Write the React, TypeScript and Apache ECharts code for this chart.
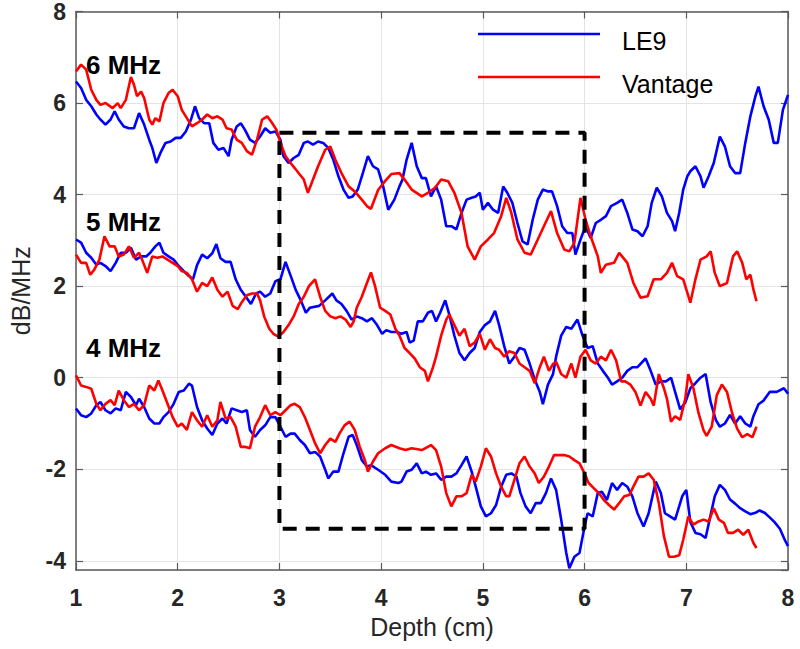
import React, { useEffect, useRef } from 'react';
import * as echarts from 'echarts';

// Depth (cm) / attenuation (dB/MHz) pairs
const le9_6MHz: [number, number][] = [
  [1.00,6.47],[1.05,6.33],[1.10,6.07],[1.15,5.93],[1.20,5.75],[1.24,5.64],[1.29,5.53],[1.34,5.64],[1.38,5.82],[1.42,5.64],
  [1.47,5.49],[1.52,5.45],[1.57,5.45],[1.62,5.78],[1.67,5.53],[1.72,5.20],[1.75,5.02],[1.79,4.69],[1.83,4.91],[1.88,5.13],
  [1.93,5.16],[1.98,5.24],[2.03,5.24],[2.08,5.38],[2.13,5.64],[2.17,5.93],[2.21,5.67],[2.26,5.56],[2.31,5.56],[2.35,5.13],
  [2.40,4.98],[2.45,5.02],[2.50,4.84],[2.53,5.20],[2.58,5.49],[2.62,5.56],[2.66,5.42],[2.71,5.20],[2.76,5.13],[2.81,5.27],
  [2.86,5.45],[2.91,5.35],[2.96,5.38],[3.01,5.20],[3.04,4.84],[3.09,4.69],[3.14,4.80],[3.19,4.87],[3.24,5.13],[3.28,5.16],
  [3.33,5.09],[3.38,5.16],[3.43,5.13],[3.48,5.02],[3.53,4.76],[3.58,4.40],[3.63,4.11],[3.68,3.93],[3.72,3.96],[3.77,4.11],
  [3.82,4.47],[3.87,4.84],[3.92,4.62],[3.97,4.55],[4.02,4.18],[4.07,3.67],[4.13,3.89],[4.18,4.18],[4.21,4.33],[4.25,4.76],
  [4.30,5.13],[4.35,4.62],[4.40,4.36],[4.44,4.36],[4.49,3.96],[4.54,4.18],[4.59,3.89],[4.64,3.31],[4.69,3.31],[4.74,3.24],
  [4.79,3.60],[4.84,3.89],[4.89,3.93],[4.93,3.96],[4.97,4.04],[5.00,3.67],[5.05,3.82],[5.10,3.67],[5.15,3.60],[5.20,4.18],
  [5.24,4.04],[5.29,3.82],[5.34,3.38],[5.39,2.98],[5.44,2.91],[5.49,3.45],[5.54,3.89],[5.59,4.11],[5.64,4.07],[5.68,4.07],
  [5.73,3.75],[5.78,3.31],[5.83,3.16],[5.88,3.16],[5.91,2.69],[5.96,3.02],[6.01,3.31],[6.06,3.05],[6.11,3.38],[6.16,3.45],
  [6.21,3.53],[6.26,3.75],[6.32,3.82],[6.37,3.89],[6.42,3.60],[6.47,3.24],[6.52,3.20],[6.57,3.09],[6.62,3.31],[6.66,3.82],
  [6.71,4.15],[6.76,3.96],[6.81,3.60],[6.86,3.42],[6.89,3.20],[6.93,3.60],[6.97,4.11],[7.01,4.40],[7.04,4.51],[7.09,4.62],
  [7.14,4.40],[7.17,4.15],[7.22,4.40],[7.27,4.69],[7.33,5.27],[7.38,5.05],[7.43,4.62],[7.48,4.47],[7.53,4.47],[7.58,5.13],
  [7.63,5.71],[7.68,6.15],[7.71,6.36],[7.76,5.93],[7.81,5.64],[7.86,5.13],[7.90,5.13],[7.95,5.85],[8.00,6.18],
];

const vantage_6MHz: [number, number][] = [
  [1.00,6.69],[1.05,6.84],[1.10,6.73],[1.15,6.29],[1.20,6.07],[1.24,5.96],[1.29,6.00],[1.36,5.89],[1.41,6.00],[1.44,5.89],
  [1.49,6.07],[1.54,6.57],[1.57,6.40],[1.60,6.15],[1.64,6.25],[1.67,6.11],[1.72,5.64],[1.75,5.53],[1.78,5.67],[1.82,5.60],
  [1.86,6.00],[1.91,6.22],[1.95,6.29],[2.00,6.15],[2.04,5.85],[2.09,5.67],[2.14,5.49],[2.19,5.56],[2.24,5.64],[2.29,5.75],
  [2.34,5.67],[2.39,5.71],[2.44,5.64],[2.48,5.45],[2.53,5.42],[2.58,5.20],[2.63,5.13],[2.68,4.95],[2.73,4.87],[2.78,5.20],
  [2.83,5.64],[2.88,5.71],[2.93,5.56],[2.97,5.42],[3.01,5.13],[3.06,4.84],[3.11,4.69],[3.15,4.58],[3.20,4.44],[3.24,4.33],
  [3.28,4.04],[3.33,4.33],[3.38,4.62],[3.45,4.98],[3.50,5.05],[3.55,4.76],[3.61,4.47],[3.68,4.18],[3.74,4.07],[3.81,3.89],
  [3.86,3.75],[3.90,3.69],[3.97,4.10],[4.04,4.30],[4.10,4.45],[4.18,4.47],[4.24,4.30],[4.30,4.11],[4.40,3.96],[4.46,4.04],
  [4.53,4.15],[4.59,4.33],[4.66,4.29],[4.72,4.04],[4.79,3.60],[4.85,2.87],[4.92,2.58],[4.98,2.87],[5.05,3.02],[5.11,3.16],
  [5.18,3.53],[5.23,3.93],[5.28,3.60],[5.34,3.02],[5.41,2.73],[5.47,2.69],[5.54,3.02],[5.60,3.31],[5.67,3.64],[5.73,3.16],
  [5.80,2.80],[5.85,2.76],[5.90,2.95],[5.96,3.93],[6.01,3.45],[6.06,3.09],[6.13,2.65],[6.16,2.29],[6.21,2.47],[6.29,2.51],
  [6.34,2.73],[6.42,2.51],[6.48,2.07],[6.55,1.75],[6.62,1.78],[6.68,2.15],[6.75,2.15],[6.81,2.29],[6.86,2.51],[6.91,2.22],
  [6.97,2.15],[7.04,1.64],[7.09,2.15],[7.14,2.58],[7.20,2.65],[7.24,2.76],[7.28,2.29],[7.33,2.00],[7.40,2.07],[7.46,2.65],
  [7.50,2.76],[7.55,2.51],[7.59,2.15],[7.63,2.25],[7.66,1.93],[7.69,1.67],
];

const le9_5MHz: [number, number][] = [
  [1.00,3.02],[1.05,2.95],[1.10,2.73],[1.15,2.62],[1.20,2.47],[1.24,2.51],[1.29,2.44],[1.34,2.33],[1.39,2.51],[1.44,2.73],
  [1.49,2.73],[1.54,2.84],[1.59,2.58],[1.64,2.65],[1.69,2.65],[1.73,2.73],[1.78,2.87],[1.82,2.95],[1.86,2.73],[1.91,2.65],
  [1.96,2.58],[2.01,2.44],[2.06,2.33],[2.11,2.22],[2.15,2.15],[2.19,2.46],[2.24,2.69],[2.29,2.61],[2.34,2.72],[2.38,2.92],
  [2.42,2.61],[2.47,2.53],[2.52,2.53],[2.57,2.15],[2.62,1.92],[2.67,1.77],[2.72,1.61],[2.77,1.84],[2.81,1.88],[2.86,1.77],
  [2.91,1.84],[2.96,2.11],[3.01,2.15],[3.06,2.53],[3.11,2.23],[3.16,1.92],[3.21,1.69],[3.26,1.42],[3.30,1.53],[3.39,1.57],
  [3.45,1.69],[3.52,1.84],[3.56,1.69],[3.61,1.61],[3.66,1.46],[3.71,1.27],[3.76,1.34],[3.81,1.30],[3.86,1.23],[3.91,1.30],
  [3.96,1.15],[4.01,0.96],[4.05,1.04],[4.10,1.00],[4.15,1.00],[4.20,0.96],[4.25,1.00],[4.28,0.77],[4.32,0.81],[4.36,1.23],
  [4.41,1.23],[4.46,1.42],[4.50,1.46],[4.54,1.23],[4.58,1.42],[4.63,1.69],[4.67,1.38],[4.72,0.92],[4.77,0.54],[4.82,0.38],
  [4.87,0.54],[4.92,0.65],[4.97,1.00],[5.02,1.15],[5.07,1.23],[5.12,1.46],[5.16,1.15],[5.21,0.69],[5.26,0.31],[5.31,0.46],
  [5.36,0.65],[5.41,0.61],[5.46,0.31],[5.51,-0.04],[5.56,-0.31],[5.59,-0.58],[5.64,-0.15],[5.69,0.08],[5.72,0.46],[5.77,0.92],
  [5.82,1.11],[5.87,1.07],[5.93,1.27],[5.98,0.92],[6.03,0.65],[6.08,0.69],[6.13,0.31],[6.18,0.15],[6.23,0.00],[6.27,-0.15],
  [6.32,-0.08],[6.37,0.00],[6.42,0.15],[6.47,0.23],[6.52,0.23],[6.60,0.42],[6.65,0.15],[6.70,-0.15],[6.75,-0.08],[6.80,-0.08],
  [6.85,0.00],[6.89,-0.31],[6.94,-0.69],[6.99,-0.54],[7.04,-0.23],[7.09,-0.12],[7.14,0.00],[7.19,0.08],[7.24,-0.54],[7.29,-0.92],
  [7.33,-1.07],[7.38,-1.00],[7.43,-0.81],[7.48,-1.00],[7.53,-0.84],[7.58,-1.00],[7.63,-1.07],[7.66,-0.84],[7.71,-0.58],[7.76,-0.50],
  [7.82,-0.31],[7.89,-0.31],[7.96,-0.23],[8.00,-0.35],
];

const vantage_5MHz: [number, number][] = [
  [1.00,2.69],[1.05,2.51],[1.10,2.51],[1.14,2.25],[1.18,2.36],[1.23,2.58],[1.28,3.09],[1.33,2.87],[1.38,2.87],[1.42,2.65],
  [1.47,2.69],[1.52,2.87],[1.57,2.62],[1.62,2.73],[1.65,2.58],[1.70,2.29],[1.75,2.65],[1.80,2.62],[1.85,2.65],[1.90,2.58],
  [1.95,2.51],[2.00,2.44],[2.04,2.33],[2.09,2.29],[2.14,2.15],[2.19,1.88],[2.24,2.07],[2.29,2.00],[2.34,2.19],[2.39,1.92],
  [2.44,1.77],[2.49,1.88],[2.54,1.57],[2.59,1.50],[2.63,1.65],[2.68,1.80],[2.73,1.84],[2.78,1.84],[2.81,1.69],[2.85,1.34],
  [2.90,1.07],[2.94,0.96],[2.99,0.90],[3.04,1.00],[3.09,1.15],[3.14,1.34],[3.19,1.61],[3.24,1.77],[3.29,2.00],[3.35,2.15],
  [3.40,1.77],[3.45,1.46],[3.50,1.34],[3.55,1.30],[3.60,1.34],[3.65,1.27],[3.70,1.11],[3.73,1.23],[3.76,1.53],[3.81,1.77],
  [3.86,2.07],[3.90,2.30],[3.94,2.00],[3.99,1.53],[4.04,1.46],[4.09,1.38],[4.14,1.07],[4.18,0.92],[4.23,0.65],[4.28,0.54],
  [4.33,0.42],[4.38,0.23],[4.43,0.15],[4.46,-0.08],[4.51,0.23],[4.54,0.46],[4.59,0.92],[4.64,1.27],[4.67,1.38],[4.72,1.15],
  [4.77,0.92],[4.82,1.07],[4.87,0.69],[4.92,0.77],[4.97,0.96],[5.02,0.61],[5.07,0.84],[5.12,0.65],[5.16,0.61],[5.21,0.46],
  [5.26,0.58],[5.31,0.54],[5.36,0.31],[5.41,0.23],[5.46,0.15],[5.51,-0.12],[5.56,0.23],[5.60,0.46],[5.65,0.15],[5.69,0.30],
  [5.72,0.35],[5.77,0.08],[5.82,0.00],[5.87,0.31],[5.91,0.00],[5.96,0.46],[6.01,0.61],[6.06,0.38],[6.11,0.31],[6.16,0.46],
  [6.21,0.38],[6.26,0.61],[6.31,0.38],[6.36,-0.08],[6.40,-0.08],[6.45,-0.15],[6.50,-0.31],[6.55,-0.61],[6.60,-0.31],[6.65,-0.46],
  [6.68,-0.61],[6.73,0.08],[6.78,-0.23],[6.81,-0.46],[6.85,-0.96],[6.89,-0.84],[6.94,-0.92],[6.99,-0.46],[7.02,0.08],[7.07,-0.23],
  [7.12,-0.77],[7.17,-1.15],[7.20,-1.27],[7.25,-1.07],[7.30,-0.38],[7.35,-0.15],[7.40,-0.31],[7.45,-0.77],[7.50,-1.11],[7.55,-1.30],
  [7.60,-1.23],[7.65,-1.30],[7.69,-1.07],
];

const le9_4MHz: [number, number][] = [
  [1.00,-0.67],[1.05,-0.82],[1.10,-0.86],[1.15,-0.78],[1.20,-0.60],[1.24,-0.53],[1.29,-0.71],[1.34,-0.78],[1.39,-0.67],[1.44,-0.71],
  [1.49,-0.31],[1.54,-0.42],[1.59,-0.60],[1.62,-0.46],[1.67,-0.64],[1.72,-0.89],[1.77,-1.00],[1.82,-1.00],[1.86,-0.86],[1.91,-0.75],
  [1.96,-0.57],[2.01,-0.31],[2.06,-0.28],[2.11,-0.13],[2.14,-0.17],[2.19,-0.64],[2.24,-0.93],[2.29,-1.11],[2.34,-1.25],[2.39,-1.00],
  [2.44,-0.89],[2.48,-1.00],[2.53,-0.67],[2.58,-0.71],[2.63,-0.75],[2.68,-0.71],[2.71,-1.14],[2.76,-1.29],[2.81,-1.14],[2.86,-1.04],
  [2.91,-0.86],[2.96,-0.86],[3.01,-1.07],[3.06,-1.29],[3.11,-1.22],[3.15,-1.22],[3.20,-1.36],[3.25,-1.47],[3.30,-1.65],[3.35,-1.62],
  [3.40,-1.72],[3.45,-2.01],[3.48,-2.20],[3.53,-2.05],[3.58,-2.05],[3.63,-1.65],[3.68,-1.29],[3.72,-1.25],[3.76,-1.47],[3.81,-1.80],
  [3.86,-1.94],[3.90,-1.91],[3.97,-2.01],[4.04,-2.12],[4.10,-2.27],[4.17,-2.30],[4.20,-2.27],[4.25,-2.05],[4.30,-2.01],[4.35,-1.87],
  [4.40,-2.09],[4.44,-2.05],[4.49,-2.12],[4.54,-2.09],[4.59,-2.23],[4.64,-2.16],[4.69,-2.16],[4.74,-2.09],[4.79,-1.91],[4.84,-1.72],
  [4.89,-2.05],[4.93,-2.38],[4.98,-2.81],[5.03,-3.03],[5.08,-2.96],[5.13,-2.78],[5.18,-2.38],[5.23,-2.12],[5.28,-2.09],[5.33,-2.16],
  [5.37,-2.52],[5.42,-2.81],[5.47,-2.96],[5.52,-2.74],[5.57,-2.74],[5.62,-2.52],[5.67,-2.20],[5.72,-2.45],[5.77,-3.10],[5.82,-3.83],
  [5.85,-4.16],[5.90,-3.91],[5.95,-3.83],[6.00,-3.25],[6.03,-2.96],[6.08,-3.03],[6.13,-2.52],[6.17,-2.49],[6.22,-2.67],[6.27,-2.30],
  [6.32,-2.45],[6.37,-2.30],[6.42,-2.38],[6.47,-2.59],[6.52,-2.96],[6.58,-3.25],[6.63,-2.96],[6.70,-2.27],[6.75,-2.52],[6.79,-2.96],
  [6.84,-3.03],[6.89,-3.10],[6.96,-2.59],[7.00,-2.45],[7.04,-3.15],[7.09,-3.39],[7.14,-3.42],[7.19,-3.50],[7.24,-2.99],[7.28,-2.59],
  [7.33,-2.34],[7.38,-2.45],[7.43,-2.66],[7.48,-2.75],[7.53,-2.85],[7.58,-2.92],[7.63,-2.98],[7.68,-2.95],[7.72,-2.90],[7.77,-2.95],
  [7.82,-3.05],[7.87,-3.16],[7.92,-3.30],[7.97,-3.55],[8.00,-3.68],
];

const vantage_4MHz: [number, number][] = [
  [1.00,0.05],[1.05,-0.17],[1.10,-0.20],[1.15,-0.24],[1.20,-0.57],[1.24,-0.71],[1.29,-0.57],[1.34,-0.49],[1.38,-0.60],[1.42,-0.28],
  [1.47,-0.49],[1.52,-0.64],[1.57,-0.57],[1.62,-0.71],[1.67,-0.60],[1.72,-0.17],[1.77,-0.28],[1.81,-0.06],[1.85,-0.28],[1.90,-0.57],
  [1.95,-0.86],[2.00,-1.07],[2.04,-1.00],[2.09,-1.14],[2.14,-0.75],[2.19,-0.93],[2.24,-1.07],[2.29,-0.82],[2.34,-1.07],[2.39,-0.93],
  [2.42,-0.53],[2.47,-0.89],[2.52,-0.86],[2.57,-1.07],[2.62,-1.51],[2.66,-1.51],[2.71,-1.54],[2.76,-1.07],[2.81,-0.86],[2.86,-0.60],
  [2.91,-0.82],[2.96,-0.75],[3.01,-0.82],[3.06,-0.71],[3.11,-0.60],[3.15,-0.57],[3.20,-0.64],[3.25,-0.86],[3.30,-1.14],[3.35,-1.43],
  [3.40,-1.65],[3.45,-1.47],[3.50,-1.33],[3.55,-1.40],[3.59,-1.22],[3.64,-1.04],[3.69,-0.96],[3.74,-1.14],[3.79,-1.51],[3.84,-1.80],
  [3.87,-2.05],[3.92,-1.83],[3.97,-1.65],[4.04,-1.54],[4.10,-1.47],[4.18,-1.54],[4.24,-1.58],[4.30,-1.54],[4.40,-1.58],[4.49,-1.47],
  [4.54,-1.58],[4.59,-1.94],[4.64,-2.52],[4.69,-2.81],[4.74,-2.59],[4.79,-2.59],[4.84,-2.52],[4.89,-2.12],[4.93,-2.27],[4.98,-1.94],
  [5.03,-1.54],[5.08,-1.72],[5.13,-2.09],[5.18,-2.38],[5.23,-2.59],[5.26,-2.59],[5.31,-2.23],[5.36,-1.87],[5.41,-1.72],[5.46,-1.94],
  [5.51,-2.09],[5.55,-2.30],[5.60,-2.16],[5.65,-1.94],[5.70,-1.69],[5.75,-1.69],[5.80,-1.69],[5.85,-1.72],[5.90,-1.80],[5.95,-1.87],
  [6.00,-2.09],[6.04,-2.30],[6.09,-2.41],[6.14,-2.52],[6.19,-2.67],[6.24,-2.78],[6.29,-2.88],[6.34,-2.74],[6.39,-2.59],[6.44,-2.56],
  [6.48,-2.38],[6.53,-2.16],[6.58,-2.16],[6.63,-2.09],[6.68,-2.23],[6.73,-2.74],[6.78,-3.46],[6.83,-3.91],[6.88,-3.91],[6.93,-3.88],
  [6.97,-3.54],[7.02,-3.03],[7.07,-3.21],[7.12,-3.14],[7.17,-3.10],[7.22,-3.14],[7.27,-2.85],[7.32,-3.10],[7.37,-3.17],[7.41,-3.39],
  [7.46,-3.39],[7.51,-3.32],[7.56,-3.43],[7.61,-3.32],[7.66,-3.61],[7.69,-3.72],
];

// Region of interest (dashed box): depth range and dB/MHz range
const boxDepth = [3, 6];
const boxValue = [-3.3, 5.35];

const xRange = [1, 8];
const yRange = [-4.2, 8];
const seriesNames = ['LE9', 'Vantage'];
const frequencyLabels = ['6 MHz', '5 MHz', '4 MHz'];

const FONT = '"Liberation Sans", Arial, Helvetica, sans-serif';
const BLUE = '#0000ff';
const RED = '#ff0000';
const AXIS = '#5a5a5a';
const TEXT = '#262626';
const GRID = '#e4e4e4';

export default function App() {
  const ref = useRef<HTMLDivElement>(null);

  useEffect(() => {
    document.body.style.margin = '0';
    const chart = echarts.init(ref.current!, null, { renderer: 'svg' });

    const lineSeries = (name: string, data: [number, number][], color: string) => ({
      name,
      type: 'line',
      data,
      symbol: 'none',
      smooth: false,
      lineStyle: { color, width: 2.6 },
      itemStyle: { color },
      xAxisIndex: 0,
      yAxisIndex: 0,
      z: 3,
    });

    const boxData = [
      [boxDepth[0], boxValue[1]],
      [boxDepth[1], boxValue[1]],
      [boxDepth[1], boxValue[0]],
      [boxDepth[0], boxValue[0]],
      [boxDepth[0], boxValue[1]],
    ];

    const labelYs = [65, 222, 348];
    const legendColors = [BLUE, RED];
    const legendYs = [34, 77];

    const axisLineStyle = { show: true, onZero: false, lineStyle: { color: AXIS, width: 1.5 } };
    const tickStyle = { show: true, inside: true, length: 7, lineStyle: { color: AXIS, width: 1.2 } };

    const legendGraphics: any[] = [];
    seriesNames.forEach((n, i) => {
      legendGraphics.push({
        type: 'line',
        z: 10,
        shape: { x1: 478, y1: legendYs[i], x2: 600, y2: legendYs[i] },
        style: { stroke: legendColors[i], lineWidth: 2.6 },
      });
      legendGraphics.push({
        type: 'text',
        x: 622,
        y: legendYs[i] + 7,
        z: 10,
        style: { text: n, fill: '#000', font: `25px ${FONT}`, verticalAlign: 'middle', align: 'left' },
      });
    });

    const option: any = {
      animation: false,
      backgroundColor: '#ffffff',
      textStyle: { fontFamily: FONT },
      grid: { left: 73, right: 12, top: 11, bottom: 79, containLabel: false },
      xAxis: [
        {
          type: 'value',
          min: xRange[0],
          max: xRange[1],
          interval: 1,
          name: 'Depth (cm)',
          nameLocation: 'middle',
          nameGap: 44,
          nameTextStyle: { fontSize: 25, color: TEXT, fontFamily: FONT },
          axisLine: axisLineStyle,
          axisTick: tickStyle,
          axisLabel: { fontSize: 23, fontWeight: 'bold', color: TEXT, margin: 16, fontFamily: FONT },
          splitLine: { show: true, lineStyle: { color: GRID, width: 1 } },
        },
        {
          type: 'value',
          position: 'top',
          min: xRange[0],
          max: xRange[1],
          interval: 1,
          axisLine: axisLineStyle,
          axisTick: tickStyle,
          axisLabel: { show: false },
          splitLine: { show: false },
        },
      ],
      yAxis: [
        {
          type: 'value',
          min: yRange[0],
          max: yRange[1],
          minInterval: 2,
          maxInterval: 2,
          name: 'dB/MHz',
          nameLocation: 'middle',
          nameGap: 43,
          nameTextStyle: { fontSize: 25, color: TEXT, fontFamily: FONT },
          axisLine: axisLineStyle,
          axisTick: tickStyle,
          axisLabel: { fontSize: 23, fontWeight: 'bold', color: TEXT, margin: 10, showMinLabel: false, fontFamily: FONT },
          splitLine: { show: true, lineStyle: { color: GRID, width: 1 } },
        },
        {
          type: 'value',
          position: 'right',
          min: yRange[0],
          max: yRange[1],
          minInterval: 2,
          maxInterval: 2,
          axisLine: axisLineStyle,
          axisTick: tickStyle,
          axisLabel: { show: false },
          splitLine: { show: false },
        },
      ],
      graphic: [
        ...frequencyLabels.map((t, i) => ({
          type: 'text',
          x: 86,
          y: labelYs[i],
          z: 10,
          style: {
            text: t,
            fill: '#000',
            font: `bold 26px ${FONT}`,
            verticalAlign: 'middle',
            align: 'left',
          },
        })),
        ...legendGraphics,
      ],
      series: [
        lineSeries(seriesNames[0], le9_6MHz, BLUE),
        lineSeries(seriesNames[1], vantage_6MHz, RED),
        lineSeries(seriesNames[0], le9_5MHz, BLUE),
        lineSeries(seriesNames[1], vantage_5MHz, RED),
        lineSeries(seriesNames[0], le9_4MHz, BLUE),
        lineSeries(seriesNames[1], vantage_4MHz, RED),
        {
          name: 'Region',
          type: 'line',
          data: boxData,
          symbol: 'none',
          silent: true,
          lineStyle: { color: '#000', width: 4, type: [14, 9] },
          z: 5,
        },
      ],
    };

    chart.setOption(option);
    return () => chart.dispose();
  }, []);

  return <div ref={ref} style={{ width: 800, height: 649 }} />;
}
